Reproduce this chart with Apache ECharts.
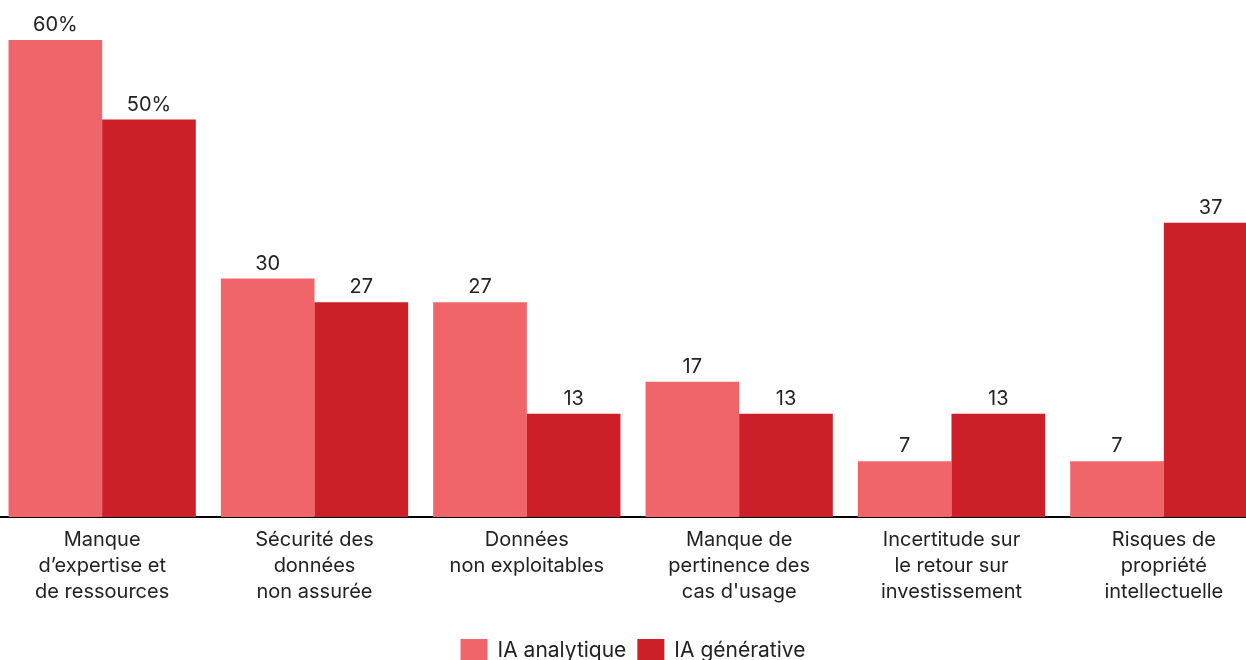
<!DOCTYPE html>
<html>
<head>
<meta charset="utf-8">
<script src="https://cdn.jsdelivr.net/npm/echarts@6/dist/echarts.min.js"></script>
<style>
  html, body { margin: 0; padding: 0; background: #fff; overflow: hidden; width: 1246px; height: 660px; }
  #chart { position: absolute; left: -4px; top: 0; width: 1274px; height: 660px; }
</style>
</head>
<body>
<div id="chart"></div>
<script>
const categories = [
  'Manque\nd\u2019expertise et\nde ressources',
  'Sécurité des\ndonnées\nnon assurée',
  'Données\nnon exploitables',
  'Manque de\npertinence des\ncas d\'usage',
  'Incertitude sur\nle retour sur\ninvestissement',
  'Risques de\npropriété\nintellectuelle'
]
const analytique = [60, 30, 27, 17, 7, 7]
const generative = [50, 27, 13, 13, 13, 37]

const FONT = 'Inter'
const chart = echarts.init(document.getElementById('chart'))

// first category shows a percent sign, the rest plain numbers
const labelFmt = p => p.dataIndex === 0 ? p.value + '%' : String(p.value)

const barLabel = {
  show: true,
  position: 'top',
  distance: 5,
  color: '#222',
  fontSize: 20,
  fontFamily: FONT,
  formatter: labelFmt
}

chart.setOption({
  animation: false,
  textStyle: { fontFamily: FONT },
  legend: {
    bottom: -8,
    left: 'center',
    itemWidth: 27,
    itemHeight: 24,
    itemGap: 11,
    icon: 'rect',
    textStyle: { fontSize: 21, color: '#222', fontFamily: FONT, padding: [0, 0, 0, 5] },
    data: ['IA analytique', 'IA générative']
  },
  grid: {
    left: 0,
    right: 0,
    top: 40,
    bottom: 143,
    containLabel: false
  },
  xAxis: {
    type: 'category',
    data: categories,
    axisTick: { show: false },
    axisLine: { lineStyle: { color: '#000', width: 2 } },
    axisLabel: {
      color: '#222',
      fontSize: 20,
      lineHeight: 26,
      margin: 10,
      interval: 0,
      fontFamily: FONT
    }
  },
  yAxis: {
    type: 'value',
    min: 0,
    max: 60,
    show: false,
    splitLine: { show: false }
  },
  series: [
    {
      name: 'IA analytique',
      type: 'bar',
      data: analytique,
      barGap: '0%',
      barCategoryGap: '11.8%',
      itemStyle: { color: '#EF6569' },
      label: barLabel
    },
    {
      name: 'IA générative',
      type: 'bar',
      data: generative,
      itemStyle: { color: '#CC1F27' },
      label: barLabel
    }
  ]
})
</script>
</body>
</html>
